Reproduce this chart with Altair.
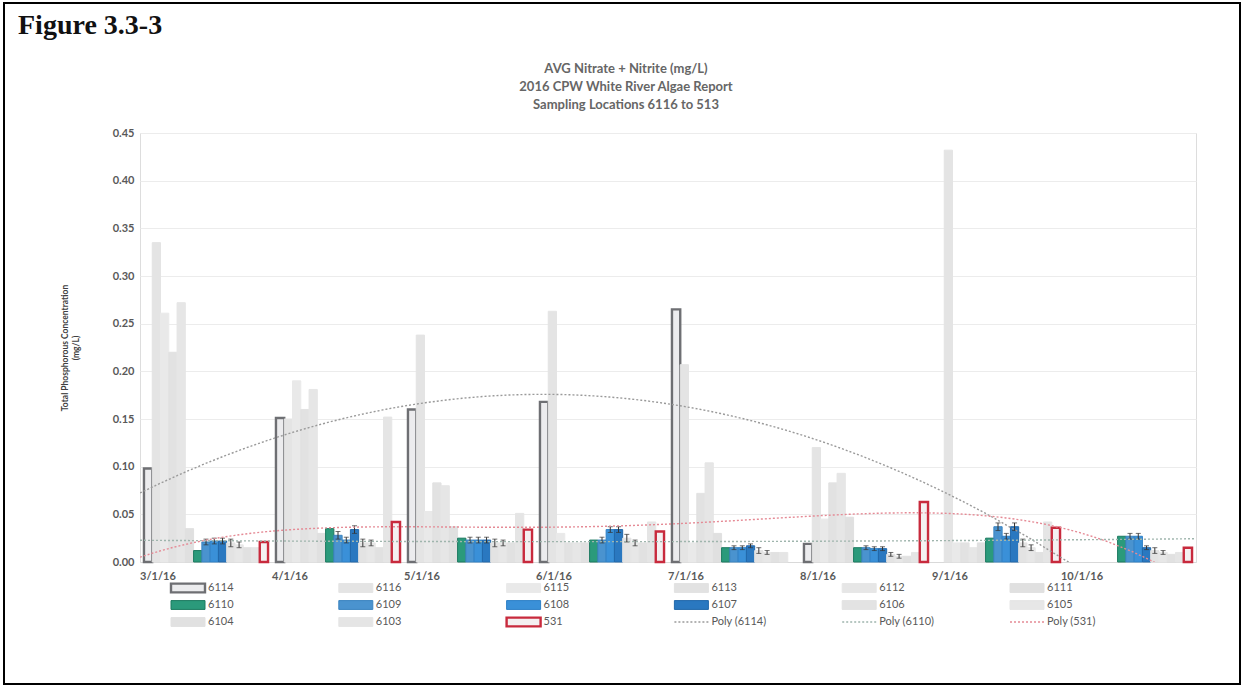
import altair as alt
import pandas as pd

# Sampling dates (x categories) and sampling locations (bar order inside each date)
dates = ["3/1/16", "4/1/16", "5/1/16", "6/1/16", "7/1/16", "8/1/16", "9/1/16", "10/1/16"]
stations = ["6114", "6116", "6115", "6113", "6112", "6111", "6110",
            "6109", "6108", "6107", "6106", "6105", "6104", "6103", "531"]

# Average concentration (mg/L) per station, one value per date (None = not sampled)
v6114 = [0.098, 0.151, 0.160, 0.168, 0.265, 0.019, 0.0, 0.0]
v6116 = [0.335, 0.150, 0.238, 0.263, 0.207, 0.120, 0.432, None]
v6115 = [0.261, 0.190, 0.053, 0.030, 0.020, 0.045, 0.020, None]
v6113 = [0.220, 0.160, 0.083, 0.020, 0.072, 0.083, 0.020, None]
v6112 = [0.272, 0.181, 0.080, 0.020, 0.104, 0.093, 0.015, None]
v6111 = [0.035, 0.030, 0.037, 0.020, 0.030, 0.047, 0.020, None]
v6110 = [0.012, 0.035, 0.025, 0.023, 0.015, 0.015, 0.025, 0.027]
v6109 = [0.021, 0.028, 0.023, 0.023, 0.015, 0.015, 0.037, 0.027]
v6108 = [0.022, 0.023, 0.023, 0.034, 0.015, 0.014, 0.027, 0.027]
v6107 = [0.022, 0.034, 0.023, 0.034, 0.017, 0.014, 0.037, 0.015]
v6106 = [0.020, 0.020, 0.020, 0.025, 0.012, 0.008, 0.020, 0.012]
v6105 = [0.018, 0.020, 0.020, 0.020, 0.010, 0.006, 0.015, 0.010]
v6104 = [0.015, 0.015, 0.020, 0.020, 0.010, 0.006, 0.010, 0.008]
v6103 = [0.015, 0.152, 0.051, 0.042, 0.010, 0.010, 0.042, 0.010]
v531 = [0.021, 0.042, 0.034, 0.032, None, 0.063, 0.036, 0.015]

series_values = [v6114, v6116, v6115, v6113, v6112, v6111, v6110,
                 v6109, v6108, v6107, v6106, v6105, v6104, v6103, v531]

# Error-bar half widths (mg/L) for the stations that show them
err_stations = ["6109", "6108", "6107", "6106", "6105"]
e6109 = [0.003, 0.004, 0.003, 0.003, 0.002, 0.002, 0.004, 0.003]
e6108 = [0.003, 0.003, 0.003, 0.003, 0.002, 0.002, 0.003, 0.003]
e6107 = [0.003, 0.004, 0.003, 0.003, 0.002, 0.002, 0.004, 0.002]
e6106 = [0.004, 0.004, 0.004, 0.004, 0.003, 0.002, 0.004, 0.003]
e6105 = [0.003, 0.003, 0.003, 0.003, 0.002, 0.002, 0.003, 0.002]
err_values = [e6109, e6108, e6107, e6106, e6105]

y_ticks = [0.0, 0.05, 0.10, 0.15, 0.20, 0.25, 0.30, 0.35, 0.40, 0.45]

chart_title = ["AVG Nitrate + Nitrite (mg/L)", "2016 CPW White River Algae Report",
               "Sampling Locations  6116 to 513"]

# Bar styling per station
fill_colors = ["#ececee", "#e4e4e4", "#e9e9e9", "#e2e2e2", "#e6e6e6", "#e0e0e0", "#2b9a7b",
               "#4a93cf", "#3a90d8", "#2a78c0", "#e3e3e3", "#e7e7e7", "#e1e1e1", "#e5e5e5", "#f4f0f1"]
stroke_colors = ["#6e6f73", "#e4e4e4", "#e9e9e9", "#e2e2e2", "#e6e6e6", "#e0e0e0", "#1d7a60",
                 "#3b84c0", "#2f80c6", "#2268aa", "#e3e3e3", "#e7e7e7", "#e1e1e1", "#e5e5e5", "#c82a3d"]
outlined = ["6114", "531"]   # stations drawn as heavy outlines

# Polynomial trend lines: (station, label, colour, order)
trends = [("6114", "Poly (6114)", "#9a9a9a", 2),
          ("6110", "Poly (6110)", "#9fb5ad", 2),
          ("531", "Poly (531)", "#e58a95", 4)]

FONT = "Lato"
GREY = "#595959"
W, H = 1056, 429

rows = []
for st, vals in zip(stations, series_values):
    for i, (d, v) in enumerate(zip(dates, vals)):
        if v is not None:
            rows.append({"date": d, "idx": i + 1, "station": st, "value": v})
df = pd.DataFrame(rows)

err_rows = []
for st, errs in zip(err_stations, err_values):
    vals = series_values[stations.index(st)]
    for d, v, e in zip(dates, vals, errs):
        if v is not None:
            err_rows.append({"date": d, "station": st, "lo": v - e, "hi": v + e})
err_df = pd.DataFrame(err_rows)

fill_scale = alt.Scale(domain=stations, range=fill_colors)
stroke_scale = alt.Scale(domain=stations, range=stroke_colors)
y_scale = alt.Scale(domain=[0, 0.45], nice=False)
band_x = alt.Scale(domain=dates, paddingInner=0.06, paddingOuter=0.03)
offset_x = alt.Scale(domain=stations, paddingInner=0, paddingOuter=0)

bar_sw = alt.condition(alt.FieldOneOfPredicate(field="station", oneOf=outlined),
                       alt.value(2.4), alt.value(1))

bars = alt.Chart(df).transform_filter(alt.datum.value > 0).mark_bar().encode(
    x=alt.X("date:N", sort=dates, scale=band_x,
            axis=alt.Axis(title=None, labelAngle=0, labelOffset=-48, ticks=False,
                          domainColor="#d9d9d9", labelFont=FONT, labelFontSize=11,
                          labelFontWeight="bold", labelColor=GREY, labelPadding=8)),
    xOffset=alt.XOffset("station:N", sort=stations, scale=offset_x),
    y=alt.Y("value:Q", scale=y_scale,
            axis=alt.Axis(values=y_ticks, format=".2f", ticks=False, domain=False,
                          gridColor="#ececec", labelFont=FONT, labelFontSize=11,
                          labelFontWeight="bold", labelColor=GREY, labelPadding=6,
                          title=["Total Phosphorous Concentration", "(mg/L)"],
                          titleFont=FONT, titleFontSize=8.5, titleFontWeight="bold",
                          titleColor="#404040", titlePadding=32, titleLineHeight=11)),
    fill=alt.Fill("station:N", scale=fill_scale, legend=None),
    stroke=alt.Stroke("station:N", scale=stroke_scale, legend=None),
    strokeWidth=bar_sw,
)

err_x = alt.X("date:N", sort=dates, scale=band_x, axis=None)
err_off = alt.XOffset("station:N", sort=stations, scale=offset_x)
err_rule = alt.Chart(err_df).mark_rule(color="#333333", strokeWidth=1).encode(
    x=err_x, xOffset=err_off,
    y=alt.Y("lo:Q", scale=y_scale, axis=None), y2="hi:Q",
)
err_cap_hi = alt.Chart(err_df).mark_tick(color="#333333", size=5, thickness=1,
                                         orient="horizontal").encode(
    x=err_x, xOffset=err_off, y=alt.Y("hi:Q", scale=y_scale, axis=None),
)
err_cap_lo = alt.Chart(err_df).mark_tick(color="#333333", size=5, thickness=1,
                                         orient="horizontal").encode(
    x=err_x, xOffset=err_off, y=alt.Y("lo:Q", scale=y_scale, axis=None),
)

trend_x = alt.Scale(domain=[0.5, 8.5], nice=False, zero=False)
trend_layers = []
for st, label, color, order in trends:
    trend_layers.append(
        alt.Chart(df).transform_filter(alt.datum.station == st)
        .transform_regression("idx", "value", method="poly", order=order, extent=[0.5, 8.5])
        .mark_line(clip=True, strokeDash=[2, 2], strokeWidth=1.4, color=color)
        .encode(x=alt.X("idx:Q", scale=trend_x, axis=None),
                y=alt.Y("value:Q", scale=y_scale, axis=None))
    )

# Legend grid: 6 columns x 3 rows below the plot
legend_names = stations + [t[1] for t in trends]
leg_df = pd.DataFrame({
    "name": legend_names,
    "col": [i % 6 for i in range(len(legend_names))],
    "row": [i // 6 for i in range(len(legend_names))],
})
leg_x = alt.Scale(domain=[0, 5], range=[48, 887])
leg_y = alt.Scale(domain=[0, 2], range=[455, 489])
RECT = "M-1,-0.26L1,-0.26L1,0.26L-1,0.26Z"

swatches = alt.Chart(leg_df).transform_filter(
    alt.FieldOneOfPredicate(field="name", oneOf=stations)
).mark_point(shape=RECT, filled=True, size=1156, opacity=1).encode(
    x=alt.X("col:Q", scale=leg_x, axis=None),
    y=alt.Y("row:Q", scale=leg_y, axis=None),
    fill=alt.Fill("name:N", scale=fill_scale, legend=None),
    stroke=alt.Stroke("name:N", scale=stroke_scale, legend=None),
    strokeWidth=alt.condition(alt.FieldOneOfPredicate(field="name", oneOf=outlined),
                              alt.value(2.4), alt.value(1)),
)

poly_swatches = []
for st, label, color, order in trends:
    poly_swatches.append(
        alt.Chart(leg_df).transform_filter(alt.datum.name == label)
        .mark_point(shape="M-1,0L1,0", filled=False, size=1156, strokeDash=[2, 2],
                    strokeWidth=1.4, opacity=1, color=color)
        .encode(x=alt.X("col:Q", scale=leg_x, axis=None),
                y=alt.Y("row:Q", scale=leg_y, axis=None))
    )

leg_text = alt.Chart(leg_df).mark_text(
    align="left", baseline="middle", dx=20, font=FONT, fontSize=11, color=GREY
).encode(
    x=alt.X("col:Q", scale=leg_x, axis=None),
    y=alt.Y("row:Q", scale=leg_y, axis=None),
    text="name:N",
)

one = pd.DataFrame({"k": [0]})
frame = alt.Chart(one).mark_rect(filled=False, stroke="black", strokeWidth=2).encode(
    x=alt.value(-136), x2=alt.value(1100), y=alt.value(-130), y2=alt.value(551)
)
fig_label = alt.Chart(one).mark_text(
    text="Figure 3.3-3", font="Liberation Serif", fontWeight="bold", fontSize=28,
    align="left", baseline="alphabetic", color="#111111"
).encode(x=alt.value(-122), y=alt.value(-99))

heading = alt.Chart(one).mark_text(
    text=chart_title, font=FONT, fontSize=13, fontWeight="bold", color="#666666",
    lineHeight=18, align="center", baseline="top"
).encode(x=alt.value(486), y=alt.value(-70))

chart = alt.layer(
    bars, err_rule, err_cap_hi, err_cap_lo, *trend_layers, swatches, *poly_swatches,
    leg_text, frame, fig_label, heading
).resolve_scale(
    x="independent", y="independent"
).properties(
    width=W, height=H,
    padding={"left": 140, "top": 133, "right": 48, "bottom": 124},
    autosize=alt.AutoSizeParams(type="none"),
).configure_view(stroke="transparent").configure(background="white")

chart.save("out.html", embed_options={"renderer": "svg", "actions": False})
